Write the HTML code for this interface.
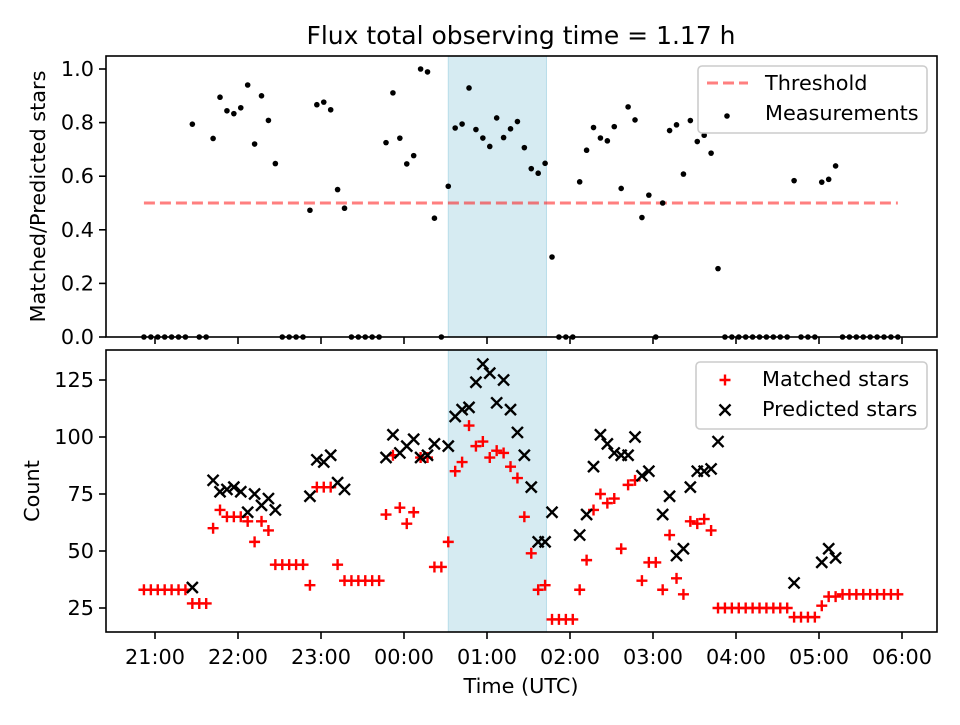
<!DOCTYPE html>
<html><head><meta charset="utf-8"><style>
html,body{margin:0;padding:0;background:#fff}
svg text{font-family:"DejaVu Sans","Liberation Sans",sans-serif;fill:#000}
</style></head><body>
<svg id="fig" width="960" height="720" viewBox="0 0 960 720" xmlns="http://www.w3.org/2000/svg">
<rect width="960" height="720" fill="#fff"/>
<text x="521" y="44" font-size="25" text-anchor="middle">Flux total observing time = 1.17 h</text>
<g id="topPanel"></g>
<g id="botPanel"></g>
</svg>
<script>
// minutes after 21:00 for each observation (5-min cadence)
const startMin = -8;
const stepMin = 5;
const matched = [33,33,33,33,33,33,33,27,27,27,60,68,65,65,65,63,54,63,59,44,44,44,44,44,35,78,78,78,44,37,37,37,37,37,37,66,92,69,62,67,91,91,43,43,54,85,89,105,96,98,91,94,93,87,82,65,49,33,35,20,20,20,20,33,46,68,75,71,73,51,79,81,37,45,45,33,57,38,31,63,62,64,59,25,25,25,25,25,25,25,25,25,25,25,21,21,21,21,26,30,30,31,31,31,31,31,31,31,31,31];
const predicted = [null,null,null,null,null,null,null,34,null,null,81,76,77,78,76,67,75,70,73,68,null,null,null,null,74,90,89,92,80,77,null,null,null,null,null,91,101,93,96,99,91,92,97,null,96,109,112,113,124,132,128,115,125,112,102,92,78,54,54,67,null,null,null,57,66,87,101,97,93,92,92,100,83,85,null,66,74,48,51,78,85,85,86,98,null,null,null,null,null,null,null,null,null,null,36,null,null,null,45,51,47,null,null,null,null,null,null,null,null,null];
const threshold = 0.5;
const spanStart = 212, spanEnd = 283; // minutes after 21:00
const xTickLabels = ["21:00","22:00","23:00","00:00","01:00","02:00","03:00","04:00","05:00","06:00"];
const topTicks = [0,0.2,0.4,0.6,0.8,1.0];
const botTicks = [25,50,75,100,125];

const NS="http://www.w3.org/2000/svg";
function mk(tag,attrs,parent){const e=document.createElementNS(NS,tag);for(const k in attrs)e.setAttribute(k,attrs[k]);parent.appendChild(e);return e;}
const L=106,R=937;
const xs=m=>155+m*83/60;
const yTop=v=>337-v*268;
const yBot=v=>608-(v-25)*2.28;
const times=matched.map((_,i)=>startMin+i*stepMin);
const ratio=matched.map((m,i)=>predicted[i]==null?0:m/predicted[i]);

function panel(g,y0,y1,yf,ticks,fmt,ylabel,ylx,showX){
  const sp=mk('rect',{x:xs(spanStart),y:y0,width:xs(spanEnd)-xs(spanStart),height:y1-y0,fill:'#add8e6','fill-opacity':0.5,stroke:'#add8e6','stroke-opacity':0.8},g);
  
  
  ticks.forEach(t=>{
    const y=yf(t);
    mk('line',{x1:99,x2:L,y1:y,y2:y,stroke:'#000','stroke-width':1.6},g);
    const tx=mk('text',{x:94,y:y+7,'font-size':20.8,'text-anchor':'end'},g);
    tx.textContent=fmt(t);
    
    
  });
  xTickLabels.forEach((lab,i)=>{
    const x=xs(i*60);
    mk('line',{x1:x,x2:x,y1:y1,y2:y1+7,stroke:'#000','stroke-width':1.6},g);
    if(showX){
      const tx=mk('text',{x:x,y:664,'font-size':20.8,'text-anchor':'middle'},g);
      tx.textContent=lab;
      
      
    }
  });
  const yl=mk('text',{x:0,y:0,'font-size':20.8,'text-anchor':'middle',transform:`translate(${ylx},${(y0+y1)/2}) rotate(-90)`},g);
  yl.textContent=ylabel;
  
  
}

const topG=document.getElementById('topPanel');
panel(topG,56,337,yTop,topTicks,t=>t.toFixed(1),'Matched/Predicted stars',45,false);
const th=mk('line',{x1:xs(times[0]),x2:xs(times[times.length-1]),y1:yTop(threshold),y2:yTop(threshold),stroke:'#ff0000','stroke-opacity':0.5,'stroke-width':3,'stroke-dasharray':'11,5'},topG);


ratio.forEach((r,i)=>{
  const c=mk('circle',{cx:xs(times[i]),cy:yTop(r),r:2.8,fill:'#000'},topG);
  
  
});
mk('rect',{x:106,y:56,width:831,height:281,fill:'none',stroke:'#000','stroke-width':1.6},topG);

const botG=document.getElementById('botPanel');
panel(botG,350,632,yBot,botTicks,t=>String(t),'Count',39,true);
const ms=5.5;
matched.forEach((m,i)=>{
  const x=xs(times[i]),y=yBot(m);
  const p=mk('path',{d:`M${x-ms},${y}H${x+ms}M${x},${y-ms}V${y+ms}`,stroke:'#ff0000','stroke-width':2.4,fill:'none'},botG);
  
  
});
predicted.forEach((v,i)=>{
  if(v==null)return;
  const x=xs(times[i]),y=yBot(v);
  const p=mk('path',{d:`M${x-ms},${y-ms}L${x+ms},${y+ms}M${x-ms},${y+ms}L${x+ms},${y-ms}`,stroke:'#000','stroke-width':2.4,fill:'none'},botG);
  
  
});
mk('rect',{x:106,y:350,width:831,height:282,fill:'none',stroke:'#000','stroke-width':1.6},botG);
const xl=mk('text',{x:521,y:693,'font-size':20.8,'text-anchor':'middle'},botG);
xl.textContent='Time (UTC)';



function legend(g,x,y,w,h,name){
  const r=mk('rect',{x:x,y:y,width:w,height:h,rx:4,fill:'#fff','fill-opacity':0.8,stroke:'#ccc','stroke-width':1.6},g);
  
  
}
legend(topG,698,66,229,67,'ratio-legend');
mk('line',{x1:707,x2:748,y1:83,y2:83,stroke:'#ff0000','stroke-opacity':0.5,'stroke-width':3,'stroke-dasharray':'11,5'},topG);
let t1=mk('text',{x:765,y:90,'font-size':20.8},topG);t1.textContent='Threshold';


mk('circle',{cx:727,cy:116,r:2.8,fill:'#000'},topG);
let t2=mk('text',{x:765,y:120,'font-size':20.8},topG);t2.textContent='Measurements';



legend(botG,696,362,231,67,'count-legend');
mk('path',{d:'M719.5,380H730.5M725,374.5V385.5',stroke:'#ff0000','stroke-width':2.4},botG);
let t3=mk('text',{x:762,y:386,'font-size':20.8},botG);t3.textContent='Matched stars';


mk('path',{d:'M719.5,404.5L730.5,415.5M719.5,415.5L730.5,404.5',stroke:'#000','stroke-width':2.4},botG);
let t4=mk('text',{x:762,y:416,'font-size':20.8},botG);t4.textContent='Predicted stars';


</script>
</body></html>
